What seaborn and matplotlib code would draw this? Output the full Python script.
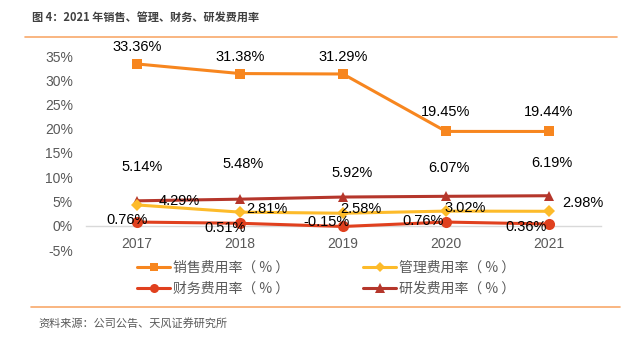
import matplotlib
matplotlib.use("Agg")
import matplotlib.pyplot as plt
import seaborn as sns
import pandas as pd
from matplotlib.lines import Line2D
from matplotlib.ticker import FuncFormatter

sns.set_theme(style="white")
plt.rcParams['font.family'] = ['Liberation Sans', 'Noto Sans CJK SC', 'DejaVu Sans']
plt.rcParams['axes.unicode_minus'] = False

years = [2017, 2018, 2019, 2020, 2021]
sales = [33.36, 31.38, 31.29, 19.45, 19.44]
admin = [4.29, 2.81, 2.58, 3.02, 2.98]
finance = [0.76, 0.51, -0.15, 0.76, 0.36]
rnd = [5.14, 5.48, 5.92, 6.07, 6.19]
names = ["销售费用率（ % ）", "管理费用率（ % ）", "财务费用率（ % ）", "研发费用率（ % ）"]
title = "图 4：2021 年销售、管理、财务、研发费用率"
source = "资料来源：公司公告、天风证券研究所"

series = [sales, admin, finance, rnd]
colors = ["#F7861F", "#FDBB2A", "#E0401E", "#B5362B"]
markers = ["s", "D", "o", "^"]
msizes = [7.5, 6.5, 8, 7.5]
lsizes = [6, 5.5, 6.5, 6.5]

# label offsets in pixels (dx, dy up-positive)
offs = [
    [(0, 17), (0, 17), (0, 17), (0, 19), (0, 19)],
    [(42, 4), (27, 3), (18, 4), (19, 3), (34, 8)],
    [(-10, 2), (-15, -5), (-16, 4), (-23, 1), (-23, -3)],
    [(5, 34), (3, 35), (9, 24), (3, 28), (3, 33)],
]

rows = []
for n, s in zip(names, series):
    for y, v in zip(years, s):
        rows.append({"year": y, "value": v, "series": n})
df = pd.DataFrame(rows)

fig = plt.figure(figsize=(6.38, 3.38), dpi=100)
ax = fig.add_axes([85.5 / 638, 1 - 250 / 338, 515 / 638, 194 / 338])

for i, n in enumerate(names):
    d = df[df.series == n]
    sns.lineplot(data=d, x="year", y="value", ax=ax, color=colors[i],
                 marker=markers[i], markersize=msizes[i], markeredgewidth=0,
                 linewidth=2.2, legend=False, zorder=3 + (3 - i) * 0.1)

for i, s in enumerate(series):
    for j, (y, v) in enumerate(zip(years, s)):
        dx, dy = offs[i][j]
        ax.annotate(f"{v:.2f}%", (y, v), xytext=(dx * 0.72, dy * 0.72),
                    textcoords="offset points", ha="center", va="center",
                    fontsize=10.5, color="#000000", zorder=10,
                    annotation_clip=False)

ax.set_xlim(2016.5, 2021.5)
ax.set_ylim(-5, 35)
ax.set_yticks(range(-5, 40, 5))
ax.yaxis.set_major_formatter(FuncFormatter(lambda v, p: f"{int(v)}%"))
ax.set_xticks(years)
ax.set_xticklabels([str(y) for y in years])
ax.set_xlabel("")
ax.set_ylabel("")
for sp in ["top", "right", "left"]:
    ax.spines[sp].set_visible(False)
ax.spines["bottom"].set_position(("data", 0))
ax.spines["bottom"].set_color("#D9D9D9")
ax.spines["bottom"].set_linewidth(1.0)
ax.spines["bottom"].set_zorder(1)
ax.tick_params(axis="x", length=0, pad=8, labelsize=10, labelcolor="#595959")
ax.tick_params(axis="y", length=0, pad=9, labelsize=10, labelcolor="#595959")
ax.grid(False)
ax.patch.set_alpha(0)

handles = []
for i in [0, 2, 1, 3]:
    handles.append(Line2D([0], [0], color=colors[i], marker=markers[i],
                          markersize=lsizes[i], markeredgewidth=0, linewidth=2.2,
                          label=names[i]))
leg = fig.legend(handles=handles, ncol=2, loc="upper left",
                 bbox_to_anchor=(137 / 638, 1 - 261 / 338), frameon=False,
                 fontsize=10, handlelength=2.4, handletextpad=0.2,
                 columnspacing=5.3, labelspacing=0.5, borderpad=0, borderaxespad=0)
for t in leg.get_texts():
    t.set_color("#595959")
    t.set_family(['Noto Sans CJK SC', 'DejaVu Sans'])

fig.text(32 / 638, 1 - 17 / 338, title, fontsize=8, fontweight="bold",
         color="#404040", va="center", ha="left",
         family=['Noto Sans CJK SC', 'DejaVu Sans'])
fig.text(38 / 638, 1 - 323 / 338, source, fontsize=8,
         color="#595959", va="center", ha="left",
         family=['Noto Sans CJK SC', 'DejaVu Sans'])
fig.add_artist(Line2D([25 / 638, 617 / 638], [1 - 37 / 338, 1 - 37 / 338],
                      color="#F8A96B", linewidth=1.2, transform=fig.transFigure))
fig.add_artist(Line2D([31 / 638, 620 / 638], [1 - 307 / 338, 1 - 307 / 338],
                      color="#F8A96B", linewidth=1.2, transform=fig.transFigure))

fig.savefig("out.png", dpi=100)
